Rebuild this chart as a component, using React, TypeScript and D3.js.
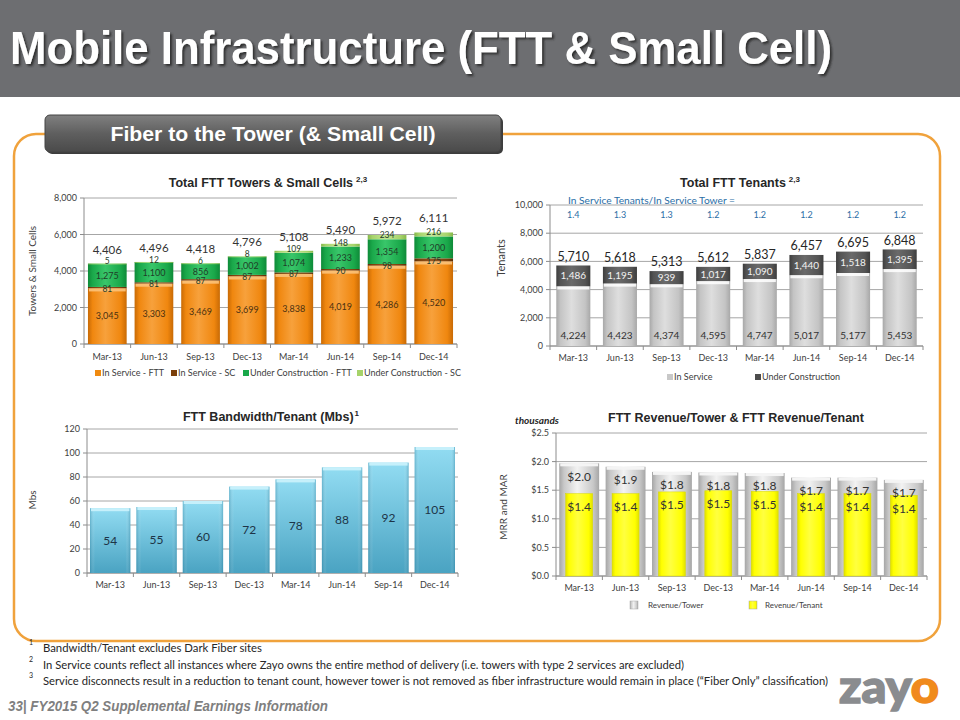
import React from 'react';
import * as d3 from 'd3';

const quarters = ['Mar-13', 'Jun-13', 'Sep-13', 'Dec-13', 'Mar-14', 'Jun-14', 'Sep-14', 'Dec-14'];

// Chart 1: Total FTT Towers & Small Cells
const inServiceFTT = [3045, 3303, 3469, 3699, 3838, 4019, 4286, 4520];
const inServiceSC = [81, 81, 87, 87, 87, 90, 98, 175];
const underConstFTT = [1275, 1100, 856, 1002, 1074, 1233, 1354, 1200];
const underConstSC = [5, 12, 6, 8, 109, 148, 234, 216];
const towerTicks = [0, 2000, 4000, 6000, 8000];
const towerSeries = ['In Service - FTT', 'In Service - SC', 'Under Construction - FTT', 'Under Construction - SC'];

// Chart 2: Total FTT Tenants
const tenantsInService = [4224, 4423, 4374, 4595, 4747, 5017, 5177, 5453];
const tenantsUnderConst = [1486, 1195, 939, 1017, 1090, 1440, 1518, 1395];
const tenantRatio = ['1.4', '1.3', '1.3', '1.2', '1.2', '1.2', '1.2', '1.2'];
const tenantTicks = [0, 2000, 4000, 6000, 8000, 10000];
const tenantSeries = ['In Service', 'Under Construction'];

// Chart 3: FTT Bandwidth/Tenant
const bandwidth = [54, 55, 60, 72, 78, 88, 92, 105];
const bwTicks = [0, 20, 40, 60, 80, 100, 120];

// Chart 4: Revenue per tower / tenant (thousands)
const revenuePerTower = [1.97, 1.91, 1.82, 1.81, 1.8, 1.72, 1.72, 1.68];
const revenuePerTenant = [1.44, 1.44, 1.47, 1.49, 1.48, 1.44, 1.44, 1.41];
const revTicks = [0, 0.5, 1.0, 1.5, 2.0, 2.5];
const revSeries = ['Revenue/Tower', 'Revenue/Tenant'];

const footnotes = [
  'Bandwidth/Tenant excludes Dark Fiber sites',
  'In Service counts reflect all instances where Zayo owns the entire method of delivery (i.e. towers with type 2 services are excluded)',
  'Service disconnects result in a reduction to tenant count, however tower is not removed as fiber infrastructure would remain in place (\u201CFiber Only\u201D classification)',
];

const FONT = 'Lato, "Open Sans", "Liberation Sans", Arial, sans-serif';
const TITLE_FONT = '"Liberation Sans", Arial, sans-serif';
const NARROW = '"Liberation Sans Narrow", "Liberation Sans", Arial, sans-serif';

type Box = { left: number; right: number; top: number; bottom: number };

function makeX(box: Box, pad: number) {
  return d3.scaleBand<string>().domain(quarters).range([box.left, box.right]).paddingInner(pad).paddingOuter(pad / 2);
}

function Frame({ box, y, ticks, tickFmt, x, labelDy }: any) {
  const step = x.step();
  return (
    <g fontFamily={FONT}>
      {ticks.map((t: number) => (
        <line key={'g' + t} x1={box.left} x2={box.right} y1={y(t)} y2={y(t)} stroke="#a6a6a6" strokeWidth={1} />
      ))}
      {ticks.map((t: number) => (
        <line key={'t' + t} x1={box.left - 4} x2={box.left} y1={y(t)} y2={y(t)} stroke="#8c8c8c" />
      ))}
      {ticks.map((t: number) => (
        <text key={'l' + t} x={box.left - 7} y={y(t)} dy="0.35em" textAnchor="end" fontSize={9} fill="#404040">
          {tickFmt(t)}
        </text>
      ))}
      <line x1={box.left} x2={box.left} y1={box.top} y2={box.bottom} stroke="#8c8c8c" />
      <line x1={box.left} x2={box.right} y1={box.bottom} y2={box.bottom} stroke="#8c8c8c" />
      {d3.range(quarters.length + 1).map((i) => {
        const xx = box.left + i * step;
        return <line key={'b' + i} x1={xx} x2={xx} y1={box.bottom} y2={box.bottom + 4} stroke="#8c8c8c" />;
      })}
      {quarters.map((q) => (
        <text key={q} x={(x(q) as number) + x.bandwidth() / 2} y={box.bottom + (labelDy || 15)} textAnchor="middle" fontSize={9} fill="#404040">
          {q}
        </text>
      ))}
    </g>
  );
}

function HGrad({ id, dark, mid, light }: { id: string; dark: string; mid: string; light: string }) {
  return (
    <linearGradient id={id} x1="0" x2="1" y1="0" y2="0">
      <stop offset="0" stopColor={dark} />
      <stop offset="0.12" stopColor={mid} />
      <stop offset="0.45" stopColor={light} />
      <stop offset="0.85" stopColor={mid} />
      <stop offset="1" stopColor={dark} />
    </linearGradient>
  );
}

function TowersChart() {
  const box: Box = { left: 84, right: 457, top: 198, bottom: 344 };
  const x = makeX(box, 0.17);
  const y = d3.scaleLinear().domain([0, 8000]).range([box.bottom, box.top]);
  const rows = quarters.map((q, i) => ({
    q,
    [towerSeries[0]]: inServiceFTT[i],
    [towerSeries[1]]: inServiceSC[i],
    [towerSeries[2]]: underConstFTT[i],
    [towerSeries[3]]: underConstSC[i],
  }));
  const stack = d3.stack<any>().keys(towerSeries)(rows);
  const fills = ['url(#gOrange)', 'url(#gBrown)', 'url(#gGreen)', 'url(#gLime)'];
  const legendColors = ['#f08a10', '#7b3f0a', '#19a84a', '#a6d36a'];
  const legendX = [95, 171, 243, 357];
  const fmt = d3.format(',');
  const labelShift = [0, 1, 0.5, -2.5];
  return (
    <g>
      <text x={268} y={187} textAnchor="middle" fontFamily={TITLE_FONT} fontWeight="bold" fontSize={12.5} fill="#262626">
        Total FTT Towers &amp; Small Cells
        <tspan fontSize={8} dy={-5} dx={3}>2,3</tspan>
      </text>
      <Frame box={box} y={y} ticks={towerTicks} tickFmt={fmt} x={x} labelDy={16} />
      <text transform={`translate(36,${271}) rotate(-90)`} textAnchor="middle" fontFamily={FONT} fontSize={10} fill="#404040">
        Towers &amp; Small Cells
      </text>
      {stack.map((s, si) => (
        <g key={s.key}>
          {s.map((d, i) => (
            <rect key={i} x={x(quarters[i])} width={x.bandwidth()} y={y(d[1])} height={Math.max(0.8, y(d[0]) - y(d[1]))} fill={fills[si]} />
          ))}
        </g>
      ))}
      {quarters.map((q, i) => (
        <rect key={'hl' + q} x={(x(q) as number) + 1} width={x.bandwidth() - 2} y={y(stack[0][i][1])} height={3} fill="#fbc27a" opacity={0.9} />
      ))}
      {stack.map((s, si) => (
        <g key={'lab' + s.key} fontFamily={FONT} fontSize={si === 3 || si === 1 ? 8.5 : 9} textAnchor="middle" fill={si === 0 ? '#4a3010' : '#1f3d28'}>
          {s.map((d, i) => (
            <text key={i} x={(x(quarters[i]) as number) + x.bandwidth() / 2} y={(y(d[0]) + y(d[1])) / 2 + labelShift[si]} dy="0.35em">
              {fmt(d[1] - d[0])}
            </text>
          ))}
        </g>
      ))}
      {quarters.map((q, i) => (
        <text key={'tot' + q} x={(x(q) as number) + x.bandwidth() / 2} y={y(stack[3][i][1]) - 14} dy="0.35em" textAnchor="middle" fontFamily={FONT} fontSize={11.5} fill="#333">
          {fmt(stack[3][i][1])}
        </text>
      ))}
      {towerSeries.map((s, i) => (
        <g key={s} fontFamily={FONT} fontSize={9} fill="#404040">
          <rect x={legendX[i]} y={370} width={6} height={6} fill={legendColors[i]} />
          <text x={legendX[i] + 7} y={373} dy="0.35em">{s}</text>
        </g>
      ))}
    </g>
  );
}

function TenantsChart() {
  const box: Box = { left: 550, right: 923, top: 205, bottom: 346 };
  const x = makeX(box, 0.27);
  const y = d3.scaleLinear().domain([0, 10000]).range([box.bottom, box.top]);
  const rows = quarters.map((q, i) => ({ q, [tenantSeries[0]]: tenantsInService[i], [tenantSeries[1]]: tenantsUnderConst[i] }));
  const stack = d3.stack<any>().keys(tenantSeries)(rows);
  const fills = ['url(#gLightGray)', 'url(#gDarkGray)'];
  const fmt = d3.format(',');
  return (
    <g>
      <text x={740} y={187} textAnchor="middle" fontFamily={TITLE_FONT} fontWeight="bold" fontSize={12.5} fill="#262626">
        Total FTT Tenants
        <tspan fontSize={8} dy={-5} dx={3}>2,3</tspan>
      </text>
      <Frame box={box} y={y} ticks={tenantTicks} tickFmt={fmt} x={x} labelDy={15} />
      <text transform={`translate(505,${258}) rotate(-90)`} textAnchor="middle" fontFamily={FONT} fontSize={11} fill="#404040">
        Tenants
      </text>
      <text x={568} y={200} dy="0.35em" fontFamily={FONT} fontSize={10} fill="#2b6ea6" textLength={167} lengthAdjust="spacingAndGlyphs">
        In Service Tenants/In Service Tower =
      </text>
      {quarters.map((q, i) => (
        <text key={'r' + q} x={(x(q) as number) + x.bandwidth() / 2} y={215} dy="0.35em" textAnchor="middle" fontFamily={FONT} fontSize={9} fill="#2b6ea6">
          {tenantRatio[i]}
        </text>
      ))}
      {stack.map((s, si) => (
        <g key={s.key}>
          {s.map((d, i) => (
            <rect key={i} x={x(quarters[i])} width={x.bandwidth()} y={y(d[1])} height={y(d[0]) - y(d[1])} fill={fills[si]} />
          ))}
        </g>
      ))}
      {quarters.map((q, i) => (
        <rect key={'hl' + q} x={(x(q) as number) + 1} width={x.bandwidth() - 2} y={y(stack[0][i][1])} height={3} fill="#ffffff" opacity={0.85} />
      ))}
      {quarters.map((q, i) => (
        <g key={'lab' + q} fontFamily={FONT} fontSize={10} textAnchor="middle">
          <text x={(x(q) as number) + x.bandwidth() / 2} y={335} dy="0.35em" fill="#333">
            {fmt(tenantsInService[i])}
          </text>
          <text x={(x(q) as number) + x.bandwidth() / 2} y={(y(stack[1][i][0]) + y(stack[1][i][1])) / 2} dy="0.35em" fill="#f2f2f2">
            {fmt(tenantsUnderConst[i])}
          </text>
          <text x={(x(q) as number) + x.bandwidth() / 2} y={y(stack[1][i][1]) - 9} dy="0.35em" fontSize={12.5} fill="#262626">
            {fmt(stack[1][i][1])}
          </text>
        </g>
      ))}
      {tenantSeries.map((s, i) => (
        <g key={s} fontFamily={FONT} fontSize={9} fill="#404040">
          <rect x={[667, 755][i]} y={374} width={6} height={6} fill={['#c8c8c8', '#4d4d4d'][i]} />
          <text x={[667, 755][i] + 7} y={377} dy="0.35em">{s}</text>
        </g>
      ))}
    </g>
  );
}

function BandwidthChart() {
  const box: Box = { left: 87, right: 458, top: 429, bottom: 573 };
  const x = makeX(box, 0.13);
  const y = d3.scaleLinear().domain([0, 120]).range([box.bottom, box.top]);
  return (
    <g>
      <text x={271} y={421} textAnchor="middle" fontFamily={TITLE_FONT} fontWeight="bold" fontSize={12.5} fill="#262626">
        FTT Bandwidth/Tenant (Mbs)
        <tspan fontSize={8} dy={-5} dx={1}>1</tspan>
      </text>
      <Frame box={box} y={y} ticks={bwTicks} tickFmt={d3.format('d')} x={x} labelDy={15} />
      <text transform={`translate(36,${500}) rotate(-90)`} textAnchor="middle" fontFamily={FONT} fontSize={10} fill="#404040">
        Mbs
      </text>
      {bandwidth.map((v, i) => (
        <g key={i}>
          <rect x={x(quarters[i])} width={x.bandwidth()} y={y(v)} height={y(0) - y(v)} fill="url(#gBlueV)" />
          <rect x={x(quarters[i])} width={x.bandwidth()} y={y(v)} height={y(0) - y(v)} fill="url(#gBlueH)" />
          <rect x={(x(quarters[i]) as number) + 1} width={x.bandwidth() - 2} y={y(v)} height={3} fill="#c6f0fb" />
          <text x={(x(quarters[i]) as number) + x.bandwidth() / 2} y={(y(0) + y(v)) / 2} dy="0.35em" textAnchor="middle" fontFamily={FONT} fontSize={12} fill="#1d3447">
            {v}
          </text>
        </g>
      ))}
    </g>
  );
}

function RevenueChart() {
  const box: Box = { left: 556, right: 927, top: 433, bottom: 576 };
  const x = makeX(box, 0.14);
  const y = d3.scaleLinear().domain([0, 2.5]).range([box.bottom, box.top]);
  const money = (v: number) => '$' + d3.format('.1f')(v);
  const inner = 27;
  return (
    <g>
      <text x={736} y={422} textAnchor="middle" fontFamily={TITLE_FONT} fontWeight="bold" fontSize={12.5} fill="#262626">
        FTT Revenue/Tower &amp; FTT Revenue/Tenant
      </text>
      <text x={515} y={420} dy="0.35em" fontFamily={FONT} fontStyle="italic" fontWeight="bold" fontSize={10} fill="#262626">
        thousands
      </text>
      <Frame box={box} y={y} ticks={revTicks} tickFmt={money} x={x} labelDy={15} />
      <text transform={`translate(507,${507}) rotate(-90)`} textAnchor="middle" fontFamily={FONT} fontSize={10} fill="#404040">
        MRR and MAR
      </text>
      {revenuePerTower.map((v, i) => (
        <g key={'t' + i}>
          <rect x={x(quarters[i])} width={x.bandwidth()} y={y(v)} height={y(0) - y(v)} fill="url(#gSilver)" />
          <rect x={(x(quarters[i]) as number) + 1} width={x.bandwidth() - 2} y={y(v)} height={3} fill="#f4f4f4" />
        </g>
      ))}
      {revenuePerTenant.map((v, i) => {
        const cx = (x(quarters[i]) as number) + x.bandwidth() / 2;
        return <rect key={'n' + i} x={cx - inner / 2} width={inner} y={y(v)} height={y(0) - y(v)} fill="url(#gYellow)" stroke="#d9d900" strokeWidth={0.5} />;
      })}
      {quarters.map((q, i) => {
        const cx = (x(q) as number) + x.bandwidth() / 2;
        return (
          <g key={'l' + q} fontFamily={FONT} fontSize={12} textAnchor="middle" fill="#333">
            <text x={cx} y={y(revenuePerTower[i]) + 13} dy="0.35em">{money(revenuePerTower[i])}</text>
            <text x={cx} y={y(revenuePerTenant[i]) + 13} dy="0.35em">{money(revenuePerTenant[i])}</text>
          </g>
        );
      })}
      {revSeries.map((s, i) => (
        <g key={s} fontFamily={FONT} fontSize={8} fill="#404040">
          <rect x={[630, 749][i]} y={601} width={8} height={8} fill={['url(#gSilver)', 'url(#gYellow)'][i]} stroke="#aaa" strokeWidth={0.5} />
          <text x={[648, 765][i]} y={605} dy="0.35em">{s}</text>
        </g>
      ))}
    </g>
  );
}

export default function App() {
  return (
    <svg width={960} height={720} viewBox="0 0 960 720" style={{ position: 'absolute', left: 0, top: 0, background: '#fff' }}>
      <defs>
        <HGrad id="gOrange" dark="#c86a05" mid="#f0870f" light="#f7a13c" />
        <HGrad id="gBrown" dark="#5c2e05" mid="#7b3f0a" light="#955420" />
        <HGrad id="gGreen" dark="#0e8a38" mid="#1aa84a" light="#39c66a" />
        <HGrad id="gLime" dark="#86b84a" mid="#a6d36a" light="#c4e694" />
        <HGrad id="gLightGray" dark="#a8a8a8" mid="#c4c4c4" light="#dedede" />
        <HGrad id="gDarkGray" dark="#3d3d3d" mid="#545454" light="#6a6a6a" />
        <HGrad id="gSilver" dark="#a6a6a6" mid="#c8c8c8" light="#f2f2f2" />
        <HGrad id="gYellow" dark="#e0e000" mid="#ffff00" light="#ffff40" />
        <linearGradient id="gBlueV" x1="0" x2="0" y1="0" y2="1">
          <stop offset="0" stopColor="#92dcf2" />
          <stop offset="1" stopColor="#4aa3c2" />
        </linearGradient>
        <linearGradient id="gBlueH" x1="0" x2="1" y1="0" y2="0">
          <stop offset="0" stopColor="#1b6f8f" stopOpacity={0.35} />
          <stop offset="0.12" stopColor="#ffffff" stopOpacity={0} />
          <stop offset="0.88" stopColor="#ffffff" stopOpacity={0} />
          <stop offset="1" stopColor="#1b6f8f" stopOpacity={0.35} />
        </linearGradient>
        <linearGradient id="gBox" x1="0" x2="0" y1="0" y2="1">
          <stop offset="0" stopColor="#808080" />
          <stop offset="0.5" stopColor="#5f5f5f" />
          <stop offset="1" stopColor="#4a4a4a" />
        </linearGradient>
        <filter id="shadow" x="-5%" y="-20%" width="110%" height="140%">
          <feDropShadow dx="2" dy="2" stdDeviation="1" floodColor="#2a2a2a" floodOpacity="0.9" />
        </filter>
      </defs>

      {/* header */}
      <rect x={0} y={0} width={960} height={97} fill="#6d6e71" />
      <text x={10} y={64} fontFamily={NARROW} fontWeight="bold" fontSize={47} fill="#ffffff" textLength={822} lengthAdjust="spacingAndGlyphs" filter="url(#shadow)">
        Mobile Infrastructure (FTT &amp; Small Cell)
      </text>

      {/* orange frame */}
      <rect x={14} y={134} width={926} height={507} rx={22} ry={22} fill="none" stroke="#f0a23c" strokeWidth={2.5} />
      <rect x={47} y={117} width={456} height={37} rx={5} fill="#3d3d3d" />
      <rect x={45} y={115} width={456} height={37} rx={5} fill="url(#gBox)" stroke="#444" strokeWidth={1} />
      <text x={273} y={134} dy="0.35em" textAnchor="middle" fontFamily={NARROW} fontWeight="bold" fontSize={21} fill="#ffffff" textLength={325} lengthAdjust="spacingAndGlyphs">
        Fiber to the Tower (&amp; Small Cell)
      </text>

      <TowersChart />
      <TenantsChart />
      <BandwidthChart />
      <RevenueChart />

      {/* footnotes */}
      {footnotes.map((f, i) => (
        <g key={i} fontFamily={FONT} fill="#262626">
          <text x={29} y={645 + i * 16.5} fontSize={7}>{i + 1}</text>
          <text x={43} y={652 + i * 16.5} fontSize={11} textLength={[219, 641, 785][i]} lengthAdjust="spacingAndGlyphs">{f}</text>
        </g>
      ))}
      <text x={8} y={711} fontFamily={NARROW} fontStyle="italic" fontWeight="bold" fontSize={14} fill="#7f7f7f" textLength={320} lengthAdjust="spacingAndGlyphs">
        33| FY2015 Q2 Supplemental Earnings Information
      </text>
      <text x={839} y={703} fontFamily={FONT} fontWeight="900" fontSize={46} fill="#8a8c8f" stroke="#8a8c8f" strokeWidth={1.5} textLength={100} lengthAdjust="spacingAndGlyphs">
        zay<tspan fill="#f08a1d" stroke="#f08a1d">o</tspan>
      </text>
    </svg>
  );
}
